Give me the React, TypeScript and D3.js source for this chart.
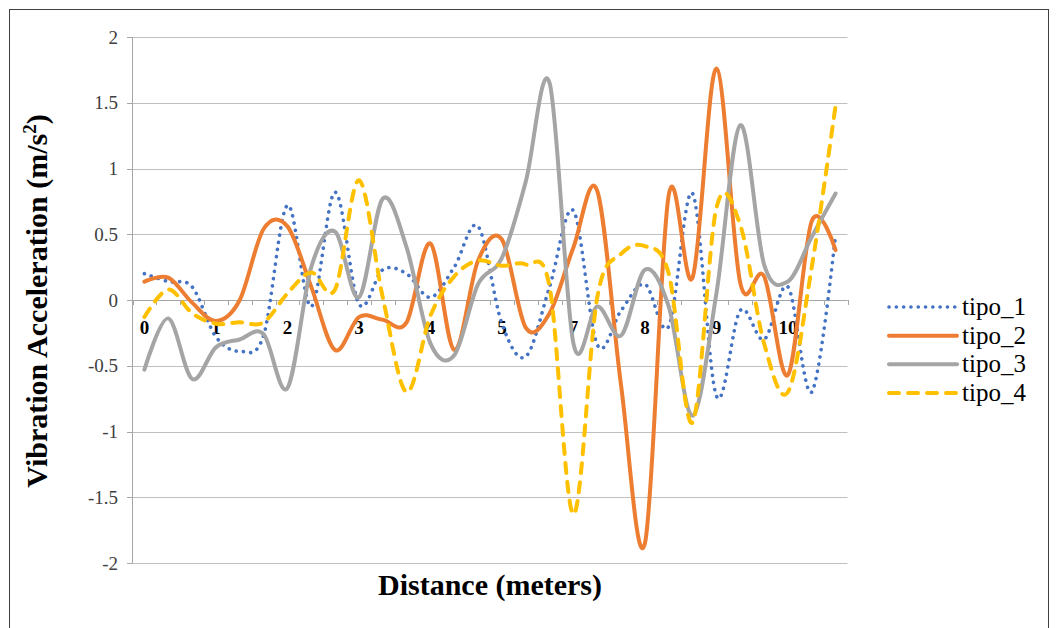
import React from "react";
import * as d3 from "d3";

// values, one per category (30 categories)
const tipo1 = [0.2, 0.14, 0.1, -0.28, -0.39, -0.27, 0.72, -0.05, 0.82, -0.03, 0.23, 0.2, 0.02, 0.25, 0.56, -0.18, -0.43, 0.1, 0.68, -0.34, -0.08, 0.12, -0.2, 0.81, -0.73, -0.08, -0.3, 0.1, -0.7, 0.5];
const tipo2 = [0.14, 0.17, -0.02, -0.16, 0.0, 0.54, 0.56, 0.1, -0.38, -0.13, -0.15, -0.17, 0.43, -0.38, 0.3, 0.46, -0.21, -0.1, 0.4, 0.83, -0.65, -1.85, 0.8, 0.17, 1.76, 0.13, 0.18, -0.57, 0.6, 0.38];
const tipo3 = [-0.53, -0.14, -0.6, -0.36, -0.3, -0.26, -0.67, 0.25, 0.52, 0.02, 0.77, 0.4, -0.33, -0.42, 0.12, 0.32, 0.9, 1.65, -0.33, -0.05, -0.27, 0.23, -0.05, -0.88, 0.05, 1.33, 0.27, 0.14, 0.48, 0.81];
const tipo4 = [-0.13, 0.08, -0.1, -0.18, -0.17, -0.17, 0.05, 0.21, 0.08, 0.91, 0.02, -0.7, -0.12, 0.18, 0.3, 0.26, 0.27, 0.1, -1.63, 0.02, 0.35, 0.41, 0.2, -0.93, 0.7, 0.57, -0.33, -0.7, 0.25, 1.48];

const seriesNames = ["tipo_1", "tipo_2", "tipo_3", "tipo_4"];
const seriesColors = ["#4472C4", "#ED7D31", "#A5A5A5", "#FFC000"];

const yTicks = [2, 1.5, 1, 0.5, 0, -0.5, -1, -1.5, -2];
// distance labels shown on every third category
const xTickLabels = ["0", "1", "2", "3", "4", "5", "7", "8", "9", "10"];

const W = 1057;
const H = 628;

export default function App() {
  const all = [tipo1, tipo2, tipo3, tipo4];
  const n = tipo1.length;

  const x = d3.scaleBand<number>().domain(d3.range(n)).range([132.5, 847.5]);
  const y = d3.scaleLinear().domain([-2, 2]).range([563, 37]);
  const cx = (i: number) => (x(i) as number) + x.bandwidth() / 2;

  const line = d3
    .line<number>()
    .x((_, i) => cx(i))
    .y((d) => y(d))
    .curve(d3.curveCatmullRom.alpha(0));

  const dash = (k: number) =>
    k === 0 ? "0.1 7.2" : k === 3 ? "10 9" : undefined;
  const width = (k: number) => (k === 0 ? 3.6 : 4);

  const legendY = d3.scalePoint<string>().domain(seriesNames).range([307, 393]);
  const serif = "'Liberation Serif', 'Times New Roman', serif";

  return (
    <svg
      width={W}
      height={H}
      style={{ position: "absolute", left: 0, top: 0, background: "#fff" }}
      fontFamily={serif}
    >
      <rect x={9.5} y={9.5} width={1039} height={650} fill="#fff" stroke="#404040" />

      {/* gridlines */}
      {yTicks.map((t) => (
        <line key={t} x1={132.5} x2={847.5} y1={Math.round(y(t)) + 0.5} y2={Math.round(y(t)) + 0.5} stroke="#BFBFBF" />
      ))}

      {/* value axis */}
      <line x1={132.5} x2={132.5} y1={y(2)} y2={y(-2)} stroke="#A6A6A6" />
      {yTicks.map((t) => (
        <g key={"yt" + t}>
          <line x1={127} x2={132.5} y1={Math.round(y(t)) + 0.5} y2={Math.round(y(t)) + 0.5} stroke="#A6A6A6" />
          <text x={118} y={y(t)} dy="0.35em" textAnchor="end" fontSize={19} fill="#404040">
            {t}
          </text>
        </g>
      ))}

      {/* category axis at zero */}
      <line x1={132.5} x2={847.5} y1={Math.round(y(0)) + 0.5} y2={Math.round(y(0)) + 0.5} stroke="#A6A6A6" />
      {d3.range(n + 1).map((k) => {
        const px = Math.round(k < n ? (x(k) as number) : 847.5) + 0.5;
        return <line key={"xt" + k} x1={px} x2={px} y1={y(0)} y2={y(0) + 5} stroke="#A6A6A6" />;
      })}
      {xTickLabels.map((lab, j) => (
        <text key={"xl" + lab} x={cx(j * 3)} y={y(0) + 34} textAnchor="middle" fontSize={19} fontWeight="bold" fill="#000">
          {lab}
        </text>
      ))}

      {/* series */}
      {all.map((vals, k) => (
        <path
          key={seriesNames[k]}
          d={line(vals) || ""}
          fill="none"
          stroke={seriesColors[k]}
          strokeWidth={width(k)}
          strokeDasharray={dash(k)}
          strokeLinecap="round"
          strokeLinejoin="round"
        />
      ))}

      {/* axis titles */}
      <text
        transform={`translate(47,301) rotate(-90)`}
        textAnchor="middle"
        fontSize={30}
        fontWeight="bold"
        fill="#000"
      >
        Vibration Acceleration (m/s<tspan dy={-11} fontSize={19}>2</tspan>
        <tspan dy={11}>)</tspan>
      </text>
      <text x={490} y={595} textAnchor="middle" fontSize={30} fontWeight="bold" fill="#000">
        Distance (meters)
      </text>

      {/* legend */}
      {seriesNames.map((name, k) => {
        const ly = legendY(name) as number;
        return (
          <g key={"lg" + name}>
            <line
              x1={889}
              x2={957}
              y1={ly}
              y2={ly}
              stroke={seriesColors[k]}
              strokeWidth={width(k)}
              strokeDasharray={dash(k)}
              strokeLinecap="round"
            />
            <text x={962} y={ly} dy="0.32em" fontSize={25} fill="#000">
              {name}
            </text>
          </g>
        );
      })}
    </svg>
  );
}
